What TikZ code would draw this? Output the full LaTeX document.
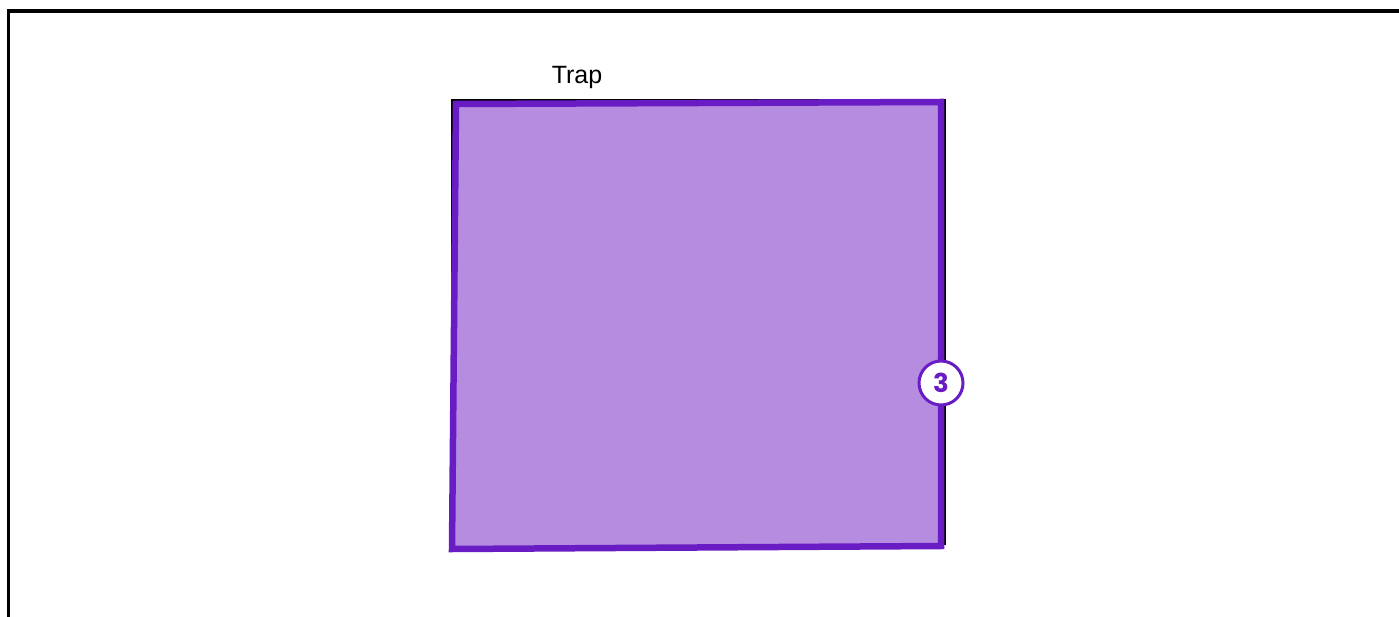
\documentclass[tikz,border=0pt]{standalone}
\usepackage{fontspec}
\setmainfont{Liberation Sans}
\newfontfamily\badgefont{Poppins}
\definecolor{trapfill}{HTML}{B58CE0}
\definecolor{trapline}{HTML}{6A1CC4}
\begin{document}
\begin{tikzpicture}[x=1pt,y=-1pt,
  framestyle/.style={draw=black,line width=3.4pt},
  shadowline/.style={draw=black,line width=2pt},
  traparea/.style={draw=trapline,fill=trapfill,line width=6.5pt,line join=miter},
  badge/.style={circle,draw=trapline,fill=white,line width=3pt,minimum size=44pt,inner sep=0pt,
    text=trapline,font=\badgefont\bfseries\fontsize{26}{28}\selectfont},
  label/.style={font=\fontsize{25}{30}\selectfont,text=black,inner sep=0pt}]
\useasboundingbox (0,0) rectangle (1399,617);
\fill[white] (0,0) rectangle (1399,617);
\draw[framestyle] (8.5,620) -- (8.5,11) -- (1402,11);
\draw[shadowline] (452,100) -- (945,100) -- (945,544) -- (452,544) -- cycle;
\draw[traparea] (456,104) -- (941,102) -- (941,546) -- (452,549) -- cycle;
\node[label] (trap) at (577,77) {Trap};
\node[badge] (b3) at (941,383) {3};
\end{tikzpicture}
\end{document}
